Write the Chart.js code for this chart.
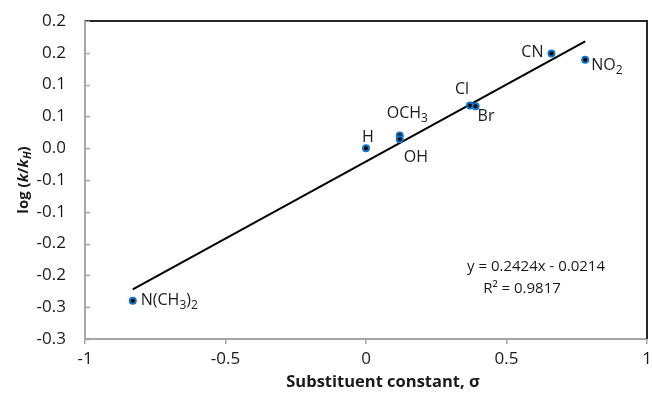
<!DOCTYPE html>
<html><head><meta charset="utf-8">
<script src="https://cdn.jsdelivr.net/npm/chart.js@4/dist/chart.umd.min.js"></script>
<style>html,body{margin:0;padding:0;background:#fff}#wrap{width:652px;height:398px;position:relative}</style>
</head><body><div id="wrap"><canvas id="c"></canvas></div>
<script>
// ---- data ----
const substituents = ['N(CH3)2', 'H', 'OCH3', 'OH', 'Cl', 'Br', 'CN', 'NO2'];
const sigmaValues  = [-0.83, 0, 0.12, 0.12, 0.37, 0.39, 0.66, 0.78];
const logRatios    = [-0.240, 0, 0.020, 0.014, 0.067, 0.066, 0.149, 0.139];
const trendLineX   = [-0.83, 0.78];
const trendLineY   = [-0.222, 0.168];
const xTickValues  = [-1, -0.5, 0, 0.5, 1];
const xTickLabels  = ['-1', '-0.5', '0', '0.5', '1'];
const yTickValues  = [0.2, 0.15, 0.1, 0.05, 0, -0.05, -0.1, -0.15, -0.2, -0.25, -0.3];
const yTickLabels  = ['0.2', '0.2', '0.1', '0.1', '0.0', '-0.1', '-0.1', '-0.2', '-0.2', '-0.3', '-0.3'];
const equationLines = ['y = 0.2424x - 0.0214', 'R\u00B2 = 0.9817'];
const xAxisTitle = 'Substituent constant, \u03C3';

// ---- layout / style (kept separate from data) ----
const FONT = '"Open Sans", "Noto Sans", sans-serif';
const TEXT = '#1a1a1a';
const AXIS = '#A6A6A6';
const labelPlacement = {
  'N(CH3)2': {dx: 8, dy: 0, align: 'left'},
  'H':       {dx: 2, dy: -11, align: 'center'},
  'OCH3':    {dx: -13, dy: -22, align: 'left'},
  'OH':      {dx: 4, dy: 18, align: 'left'},
  'Cl':      {dx: -8, dy: -16, align: 'center'},
  'Br':      {dx: 2, dy: 10, align: 'left'},
  'CN':      {dx: -8, dy: -1, align: 'right'},
  'NO2':     {dx: 6, dy: 6, align: 'left'}
};

function segs(label) {
  const out = [];
  for (const ch of label) {
    const sub = /[0-9]/.test(ch);
    if (out.length && out[out.length - 1].sub === sub) out[out.length - 1].t += ch;
    else out.push({t: ch, sub});
  }
  return out;
}

const decorPlugin = {
  id: 'decor',
  afterDatasetsDraw(chart) {
    const ctx = chart.ctx;
    const xs = chart.scales.x, ys = chart.scales.y;
    const a = chart.chartArea;
    ctx.save();
    // top and right frame
    ctx.strokeStyle = '#262626';
    ctx.lineWidth = 2;
    ctx.beginPath();
    ctx.moveTo(a.left, a.top); ctx.lineTo(a.right, a.top); ctx.lineTo(a.right, a.bottom);
    ctx.stroke();
    // y tick marks (inside)
    ctx.strokeStyle = AXIS;
    ctx.lineWidth = 1.5;
    yTickValues.forEach(v => {
      const py = Math.round(ys.getPixelForValue(v)) + 0.5;
      ctx.beginPath(); ctx.moveTo(a.left, py); ctx.lineTo(a.left + 5, py); ctx.stroke();
    });
    // point labels
    ctx.fillStyle = TEXT;
    ctx.textBaseline = 'middle';
    substituents.forEach((name, i) => {
      const p = labelPlacement[name];
      const px = xs.getPixelForValue(sigmaValues[i]) + p.dx;
      const py = ys.getPixelForValue(logRatios[i]) + p.dy;
      const parts = segs(name);
      let w = 0;
      parts.forEach(s => { ctx.font = (s.sub ? '12px ' : '16px ') + FONT; s.w = ctx.measureText(s.t).width; w += s.w; });
      let x = p.align === 'left' ? px : p.align === 'right' ? px - w : px - w / 2;
      ctx.textAlign = 'left';
      parts.forEach(s => {
        ctx.font = (s.sub ? '12px ' : '16px ') + FONT;
        ctx.fillText(s.t, x, py + (s.sub ? 5 : 0));
        x += s.w;
      });
    });
    // equation
    ctx.font = '15px ' + FONT;
    ctx.textAlign = 'center';
    ctx.fillText(equationLines[0], 536, 267);
    ctx.fillText(equationLines[1], 522, 289);
    // x axis title
    ctx.font = 'bold 16.5px ' + FONT;
    ctx.fillText(xAxisTitle, 383, 382);
    // y axis title: log (k/kH)
    ctx.translate(24, (a.top + a.bottom) / 2);
    ctx.rotate(-Math.PI / 2);
    const yt = [
      {t: 'log (', f: 'bold 15px '}, {t: 'k', f: 'italic bold 15px '}, {t: '/', f: 'bold 15px '},
      {t: 'k', f: 'italic bold 15px '}, {t: 'H', f: 'italic bold 11px ', sub: true}, {t: ')', f: 'bold 15px '}
    ];
    let tw = 0;
    yt.forEach(s => { ctx.font = s.f + FONT; s.w = ctx.measureText(s.t).width; tw += s.w; });
    let x = -tw / 2;
    ctx.textAlign = 'left';
    yt.forEach(s => { ctx.font = s.f + FONT; ctx.fillText(s.t, x, s.sub ? 4 : 0); x += s.w; });
    ctx.restore();
  }
};

new Chart(document.getElementById('c'), {
  type: 'scatter',
  data: {
    datasets: [
      {
        type: 'line',
        data: trendLineX.map((x, i) => ({x, y: trendLineY[i]})),
        borderColor: '#000', borderWidth: 2, pointRadius: 0, fill: false, order: 2
      },
      {
        data: sigmaValues.map((x, i) => ({x, y: logRatios[i]})),
        backgroundColor: '#000', borderColor: '#1273C6', borderWidth: 2,
        pointRadius: 3, pointHoverRadius: 3, order: 1
      }
    ]
  },
  options: {
    responsive: true, maintainAspectRatio: false, animation: false,
    layout: {padding: {top: 21, right: 4, left: 0, bottom: 0}},
    plugins: {legend: {display: false}, tooltip: {enabled: false}},
    scales: {
      x: {
        type: 'linear', min: -1, max: 1,
        afterBuildTicks: s => { s.ticks = xTickValues.map(v => ({value: v})); },
        afterFit: s => { s.height = 59; s.paddingLeft = 0; s.paddingRight = 0; },
        grid: {drawOnChartArea: false, drawTicks: true, tickLength: 5, color: AXIS, lineWidth: 1.5},
        border: {color: AXIS, width: 2},
        ticks: {color: TEXT, font: {family: FONT, size: 17}, padding: 5, maxRotation: 0,
          callback: (v) => xTickLabels[xTickValues.indexOf(v)]}
      },
      y: {
        type: 'linear', min: -0.3, max: 0.2,
        afterBuildTicks: s => { s.ticks = yTickValues.map(v => ({value: v})); },
        afterFit: s => { s.width = 85; s.paddingTop = 0; s.paddingBottom = 0; },
        grid: {drawOnChartArea: false, drawTicks: false},
        border: {color: AXIS, width: 2},
        ticks: {color: TEXT, font: {family: FONT, size: 17}, padding: 19,
          callback: (v) => yTickLabels[yTickValues.findIndex(t => Math.abs(t - v) < 1e-9)]}
      }
    }
  },
  plugins: [decorPlugin]
});
</script>
</body></html>
